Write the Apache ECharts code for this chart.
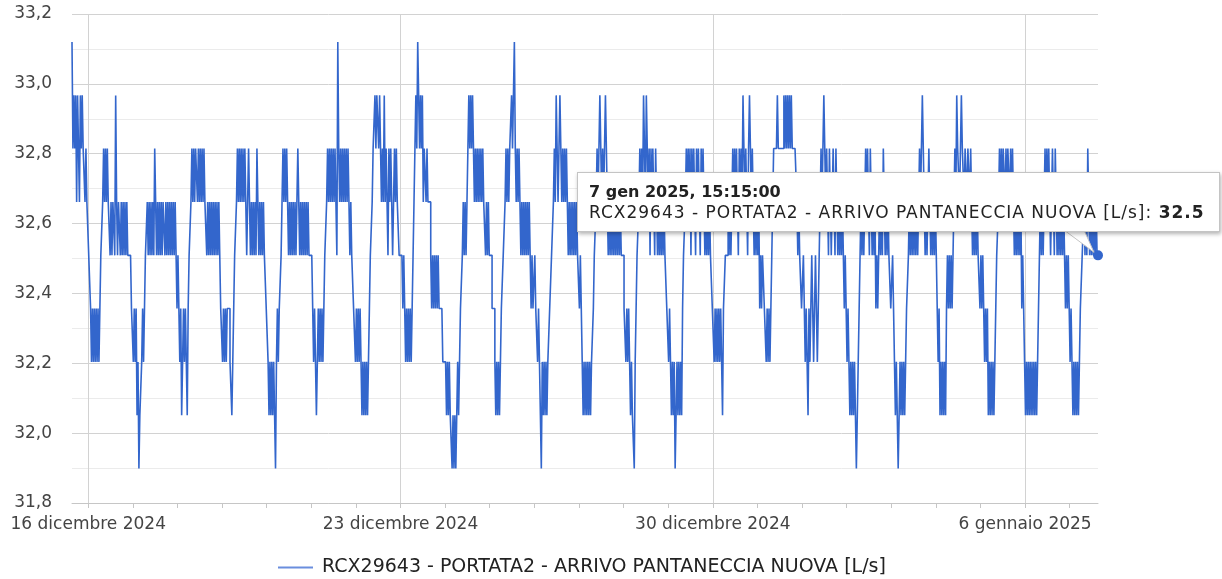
<!DOCTYPE html>
<html>
<head>
<meta charset="utf-8">
<title>RCX29643 - PORTATA2 - ARRIVO PANTANECCIA NUOVA</title>
<script src="https://cdn.jsdelivr.net/npm/echarts@6/dist/echarts.min.js"></script>
<style>
  html, body { margin: 0; padding: 0; background: #fff; }
  #chart { width: 1222px; height: 579px; }
</style>
</head>
<body>
<div id="chart"></div>
<script>
// the meter reports the flow in steps of ~0.153 L/s
const levels = [31.899, 32.051, 32.204, 32.357, 32.509, 32.662, 32.815, 32.967, 33.12];

const seriesName = 'RCX29643 - PORTATA2 - ARRIVO PANTANECCIA NUOVA [L/s]';

// one string per day, one digit (index into levels) per 30 min sample.
// first string starts 15 dic 2024 15:15, the others at 00:15 of the day
const dayCodes = [
  '867675765767665655',                                            // 15 dic
  '44 3 2323232323 44 5 656565 545455475455454545454 444 33',      // 16 dic
  '2323 12011 232 344 54 54545 46545 45454 55454 54545 45454 3',   // 17 dic
  '43 231232321 344 56565 66565 65656 55 45454 54545 45454 33',    // 18 dic
  '23232 333 2212 344 5656565656 54565 45454 54654 54545 4 43',    // 19 dic
  '32121 21210 23233 45 656565 45454 54545 65454 54545 45444',     // 20 dic
  '43 23212323232 344 56565 65656 54865 65656 5656 54544332',      // 21 dic
  '32323 21212 1212 3445 66767767 65657 56546 56545 65655 44',     // 22 dic
  '44343 23232 3234 56768 76767 5665 6555 43434 3434 33332 22',    // 23 dic
  '21212 11010 10121 2 334 545456 76767 65656 56565 655 45454',    // 24 dic
  '44333 21212123 3445 65656 676686 56565 45454 54545 4 3433',     // 25 dic
  '433 23210 21212 122 33445 65765 67656 5656 54545 45454 544',    // 26 dic
  '3432 12121 21212 2 344 56567 65656 76545 45454 54545 45444',    // 27 dic
  '33232 32121 10234 4 56565 76576 56465 65465 45454 54544 33',    // 28 dic
  '23212 12012 12121 3 445 65656 46565 46565 46565 45454 54 43',   // 29 dic
  '32323 23232 13344 45454 56565 65465 65765 65467 65654 545',     // 30 dic
  '45343 44332 32323 4 56666 76666 66767 67676 76666 65 45443',    // 31 dic
  '34323 21323 43234 3234 56567 65654 65456 54654 54545 4343',     // 1 gen
  '23212 12121 0123 45454 56565 46545 45343 45454 65454 5443',     // 2 gen
  '34321 21012 12121 23 34545 45454 54565 67654 54565 45454 5',     // 3 gen
  '43231 21212 13434 3434 56576 65676 65665 6656 54545 45443',     // 4 gen
  '43432 32312 12121 2 3445 65656 65656 65656 54545 45453 432',    // 5 gen
  '12121 21212 12123 4 54545 65656 54565 465 45454 54543 4343',    // 6 gen
  '23212 12121 2334 45454 65454 54545 44'                          // 7 gen
];

const weekTicks = [
  new Date(2024, 11, 16).getTime(),
  new Date(2024, 11, 23).getTime(),
  new Date(2024, 11, 30).getTime(),
  new Date(2025, 0, 6).getTime()
];
const dayTicks = [];
for (let d = 16; d <= 38; d++) dayTicks.push(new Date(2024, 11, d).getTime());

const xMin = new Date(2024, 11, 15, 15, 15).getTime();
const xMax = new Date(2025, 0, 7, 15, 15).getTime();

const mesi = ['gen', 'feb', 'mar', 'apr', 'mag', 'giu', 'lug', 'ago', 'set', 'ott', 'nov', 'dic'];
const mesiLunghi = ['gennaio', 'febbraio', 'marzo', 'aprile', 'maggio', 'giugno', 'luglio',
  'agosto', 'settembre', 'ottobre', 'novembre', 'dicembre'];

const points = [];
dayCodes.forEach((code, d) => {
  const start = d === 0 ? xMin : new Date(2024, 11, 15 + d, 0, 15).getTime();
  code.replace(/\s/g, '').split('').forEach((c, k) => {
    points.push([start + k * 1800000, levels[+c]]);
  });
});
const last = points[points.length - 1];

const pad = (n) => String(n).padStart(2, '0');
const font = 'DejaVu Sans';

const chart = echarts.init(document.getElementById('chart'));
chart.setOption({
  animation: false,
  grid: { left: 72, right: 124, top: 14, bottom: 76, containLabel: false, outerBoundsMode: 'none' },
  legend: {
    left: 273,
    top: 553,
    itemWidth: 35,
    itemHeight: 2,
    icon: 'rect',
    selectedMode: false,
    textStyle: { fontSize: 19, fontFamily: font, color: '#222', padding: [0, 0, 0, 4] },
    data: [{ name: seriesName, itemStyle: { color: '#6a8ede' } }]
  },
  tooltip: {
    trigger: 'axis',
    triggerOn: 'none',
    alwaysShowContent: true,
    axisPointer: { type: 'none' },
    position: [577, 172],
    transitionDuration: 0,
    backgroundColor: '#fff',
    borderColor: '#c4c4c4',
    borderWidth: 1,
    padding: [8, 14, 8, 11],
    textStyle: { fontSize: 17, fontFamily: font, color: '#222' },
    extraCssText: 'box-shadow: 1px 2px 4px rgba(0,0,0,0.3); border-radius: 0; line-height: 21px; white-space: nowrap;',
    formatter: (params) => {
      const p = params[0];
      const t = new Date(p.value[0]);
      const head = t.getDate() + ' ' + mesi[t.getMonth()] + ' ' + t.getFullYear() + ', ' +
        pad(t.getHours()) + ':' + pad(t.getMinutes()) + ':' + pad(t.getSeconds());
      return '<b style="font-size:16px">' + head + '</b><br/>' +
        '<span style="letter-spacing:1px">' + p.seriesName + ': <b>' + p.value[1].toFixed(1) + '</b></span>';
    }
  },
  xAxis: [
    {
      type: 'value',
      min: xMin,
      max: xMax,
      axisLine: { lineStyle: { color: '#c6c6c6' } },
      axisTick: { show: true, length: 5, customValues: weekTicks, lineStyle: { color: '#c6c6c6' } },
      axisLabel: {
        customValues: weekTicks,
        color: '#444',
        fontSize: 17,
        fontFamily: font,
        margin: 13,
        formatter: (v) => {
          const t = new Date(v);
          return t.getDate() + ' ' + mesiLunghi[t.getMonth()] + ' ' + t.getFullYear();
        }
      },
      splitLine: { show: true, lineStyle: { color: '#d2d2d2' } }
    },
    {
      type: 'value',
      min: xMin,
      max: xMax,
      position: 'bottom',
      axisLine: { show: false },
      axisTick: { show: true, length: 5, customValues: dayTicks, lineStyle: { color: '#c6c6c6' } },
      axisLabel: { show: false },
      splitLine: { show: false }
    }
  ],
  yAxis: {
    type: 'value',
    min: 31.8,
    max: 33.2,
    interval: 0.2,
    axisLine: { show: false },
    axisTick: { show: false },
    axisLabel: {
      color: '#444',
      fontSize: 17,
      fontFamily: font,
      margin: 20,
      formatter: (v) => v.toFixed(1).replace('.', ',')
    },
    splitLine: { lineStyle: { color: '#d2d2d2' } },
    minorTick: { show: false, splitNumber: 2 },
    minorSplitLine: { show: true, lineStyle: { color: '#ebebeb' } }
  },
  series: [
    {
      name: seriesName,
      type: 'line',
      data: points,
      step: 'end',
      showSymbol: false,
      symbol: 'none',
      color: '#3366cc',
      lineStyle: { width: 1.6, color: '#3366cc' },
      emphasis: { disabled: true },
      markPoint: {
        silent: true,
        symbol: 'circle',
        symbolSize: 10,
        label: { show: false },
        itemStyle: { color: '#3366cc' },
        data: [{ coord: last }]
      }
    }
  ]
});

chart.dispatchAction({ type: 'showTip', seriesIndex: 0, dataIndex: points.length - 1 });

// the little tail of the tooltip pointing to the last sample
const dot = chart.convertToPixel({ seriesIndex: 0 }, last);
chart.setOption({
  graphic: [{
    type: 'polygon',
    z: 100,
    shape: { points: [[dot[0] - 34, 230], [dot[0] - 14, 230], [dot[0] - 4, dot[1] - 3]] },
    style: { fill: '#fff', stroke: '#c4c4c4', lineWidth: 1 }
  }]
});
</script>
</body>
</html>
